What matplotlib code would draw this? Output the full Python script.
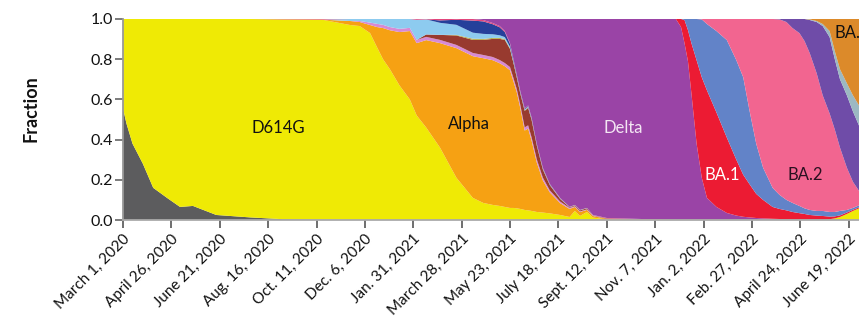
import numpy as np
import matplotlib
matplotlib.use("Agg")
import matplotlib.pyplot as plt

plt.rcParams['font.family'] = ['Lato', 'DejaVu Sans']

# Sampling dates (weekly-ish, denser where lineages turn over)
dates = [
    '2020-03-01', '2020-03-05', '2020-03-12', '2020-03-24', '2020-04-05', '2020-04-21',
    '2020-05-06', '2020-05-21', '2020-06-02', '2020-06-17', '2020-07-26', '2020-09-02',
    '2020-10-17',
    '2020-11-19', '2020-11-30', '2020-12-12', '2020-12-20', '2020-12-27', '2021-01-04',
    '2021-01-15', '2021-01-27', '2021-02-04', '2021-02-15', '2021-03-03', '2021-03-22',
    '2021-04-10', '2021-04-22', '2021-05-03', '2021-05-11', '2021-05-17', '2021-05-23',
    '2021-05-27', '2021-05-31', '2021-06-04', '2021-06-09', '2021-06-13', '2021-06-17',
    '2021-06-23', '2021-06-30', '2021-07-08', '2021-07-20', '2021-07-31', '2021-08-06',
    '2021-08-12', '2021-08-20', '2021-08-27', '2021-09-12', '2021-10-22',
    '2021-12-01', '2021-12-07', '2021-12-11', '2021-12-15', '2021-12-19', '2021-12-25',
    '2021-12-31', '2022-01-06', '2022-01-17', '2022-01-29', '2022-02-09', '2022-02-17',
    '2022-02-24', '2022-03-04', '2022-03-12', '2022-03-23', '2022-03-31', '2022-04-08',
    '2022-04-15', '2022-04-23', '2022-04-29', '2022-05-05', '2022-05-13', '2022-05-20',
    '2022-05-28', '2022-06-03', '2022-06-09', '2022-06-17', '2022-06-24', '2022-07-01',
]

# Lineage fractions, bottom of the stack first
ancestral = [
    0.555, 0.48, 0.38, 0.28, 0.16, 0.11, 0.065, 0.07, 0.05, 0.025, 0.013, 0.004, 0.002,
    0, 0, 0, 0, 0, 0, 0, 0, 0, 0, 0, 0, 0, 0, 0, 0, 0, 0, 0, 0, 0, 0, 0, 0, 0, 0, 0, 0,
    0, 0, 0, 0, 0, 0, 0,
    0, 0, 0, 0, 0, 0, 0, 0, 0, 0, 0, 0, 0, 0, 0, 0, 0, 0, 0, 0, 0, 0, 0, 0, 0, 0, 0, 0,
    0, 0,
]
d614g = [
    0.445, 0.52, 0.62, 0.72, 0.84, 0.89, 0.935, 0.93, 0.95, 0.975, 0.987, 0.994, 0.995,
    0.97, 0.965, 0.93, 0.86, 0.80, 0.75, 0.67, 0.60, 0.52, 0.46, 0.36, 0.21, 0.11, 0.085,
    0.075, 0.07, 0.065, 0.06, 0.06, 0.058, 0.055, 0.05, 0.048, 0.045, 0.04, 0.037, 0.033,
    0.025, 0.015, 0.045, 0.02, 0.04, 0.012, 0.003, 0.002,
    0.002, 0.002, 0.002, 0.002, 0.002, 0.002, 0.002, 0.002, 0.002, 0.002, 0.002, 0.002,
    0.002, 0.002, 0.002, 0.002, 0.002, 0.002, 0.002, 0.002, 0.002, 0.002, 0.002, 0.002,
    0.004, 0.008, 0.015, 0.03, 0.045, 0.058,
]
alpha = [
    0, 0, 0, 0, 0, 0, 0, 0, 0, 0, 0, 0, 0,
    0.02, 0.02, 0.04, 0.10, 0.155, 0.194, 0.265, 0.34, 0.36, 0.435, 0.52, 0.645, 0.705,
    0.72, 0.72, 0.71, 0.70, 0.685, 0.63, 0.575, 0.50, 0.395, 0.407, 0.35, 0.246, 0.16,
    0.105, 0.059, 0.04, 0.02, 0.02, 0.01, 0.008, 0.003, 0.001,
    0, 0, 0, 0, 0, 0, 0, 0, 0, 0, 0, 0, 0, 0, 0, 0, 0, 0, 0, 0, 0, 0, 0, 0, 0, 0, 0, 0,
    0, 0,
]
lilac = [
    0, 0, 0, 0, 0, 0, 0, 0, 0, 0, 0, 0, 0,
    0, 0.005, 0.012, 0.016, 0.016, 0.016, 0.016, 0.016, 0.016, 0.016, 0.016, 0.016, 0.016,
    0.016, 0.016, 0.016, 0.016, 0.016, 0.016, 0.016, 0.016, 0.016, 0.016, 0.016, 0.016,
    0.014, 0.01, 0.008, 0.005, 0.004, 0.003, 0.003, 0.002, 0, 0,
    0, 0, 0, 0, 0, 0, 0, 0, 0, 0, 0, 0, 0, 0, 0, 0, 0, 0, 0, 0, 0, 0, 0, 0, 0, 0, 0, 0,
    0, 0,
]
gamma = [
    0, 0, 0, 0, 0, 0, 0, 0, 0, 0, 0, 0, 0,
    0, 0, 0, 0, 0, 0, 0, 0, 0, 0.012, 0.025, 0.047, 0.065, 0.075, 0.09, 0.105, 0.115,
    0.09, 0.075, 0.057, 0.057, 0.082, 0.087, 0.087, 0.069, 0.041, 0.026, 0.013, 0.003,
    0.004, 0.005, 0.005, 0.002, 0.002, 0,
    0, 0, 0, 0, 0, 0, 0, 0, 0, 0, 0, 0, 0, 0, 0, 0, 0, 0, 0, 0, 0, 0, 0, 0, 0, 0, 0, 0,
    0, 0,
]
olive = [
    0, 0, 0, 0, 0, 0, 0, 0, 0, 0, 0, 0, 0,
    0, 0, 0, 0, 0, 0, 0, 0, 0, 0, 0, 0.003, 0.006, 0.005, 0.005, 0.005, 0.004, 0.003,
    0.003, 0.002, 0.002, 0.002, 0.002, 0.002, 0.002, 0.002, 0.001, 0.001, 0.001, 0.001,
    0.001, 0.001, 0, 0, 0,
    0, 0, 0, 0, 0, 0, 0, 0, 0, 0, 0, 0, 0, 0, 0, 0, 0, 0, 0, 0, 0, 0, 0, 0, 0, 0, 0, 0,
    0, 0,
]
light_blue = [
    0, 0, 0, 0, 0, 0, 0, 0, 0, 0, 0, 0, 0,
    0.01, 0.01, 0.018, 0.024, 0.029, 0.04, 0.049, 0.044, 0.1, 0.075, 0.06, 0.05, 0.03,
    0.025, 0.018, 0.013, 0.01, 0.008, 0.006, 0.005, 0.004, 0.004, 0.004, 0.004, 0.003,
    0.003, 0.002, 0.002, 0.001, 0.001, 0.001, 0.001, 0.001, 0, 0,
    0, 0, 0, 0, 0, 0, 0, 0, 0, 0, 0, 0, 0, 0, 0, 0, 0, 0, 0, 0, 0, 0, 0, 0, 0, 0, 0, 0,
    0, 0,
]
dark_blue = [
    0, 0, 0, 0, 0, 0, 0, 0, 0, 0, 0, 0, 0,
    0, 0, 0, 0, 0, 0, 0, 0, 0, 0, 0.012, 0.025, 0.06, 0.062, 0.05, 0.04, 0.025, 0.014,
    0.008, 0.005, 0.004, 0.004, 0.004, 0.004, 0.003, 0.002, 0.002, 0.001, 0, 0, 0, 0, 0,
    0, 0,
    0, 0, 0, 0, 0, 0, 0, 0, 0, 0, 0, 0, 0, 0, 0, 0, 0, 0, 0, 0, 0, 0, 0, 0, 0, 0, 0, 0,
    0, 0,
]
other = [
    0, 0, 0, 0, 0, 0, 0, 0, 0, 0, 0, 0.002, 0.003,
    0, 0, 0, 0, 0, 0, 0, 0, 0.004, 0.002, 0.007, 0.004, 0.008, 0.007, 0.006, 0.006, 0.005,
    0.004, 0.002, 0.002, 0.002, 0.002, 0.002, 0.002, 0.001, 0.001, 0.001, 0.001, 0, 0, 0,
    0, 0, 0.002, 0.002,
    0, 0, 0, 0, 0, 0, 0, 0, 0, 0, 0, 0, 0, 0, 0, 0, 0, 0, 0, 0, 0, 0, 0, 0, 0, 0, 0, 0,
    0, 0,
]
delta = [
    0, 0, 0, 0, 0, 0, 0, 0, 0, 0, 0, 0, 0,
    0, 0, 0, 0, 0, 0, 0, 0, 0, 0, 0, 0, 0, 0.005, 0.02, 0.035, 0.06, 0.12, 0.20, 0.28,
    0.36, 0.445, 0.43, 0.49, 0.62, 0.74, 0.82, 0.89, 0.935, 0.925, 0.95, 0.94, 0.975,
    0.99, 0.995,
    0.998, 0.958, 0.878, 0.788, 0.628, 0.378, 0.208, 0.108, 0.063, 0.033, 0.02, 0.014,
    0.011, 0.008, 0.006, 0.004, 0.003, 0.002, 0.001, 0.001, 0.001, 0.001, 0.001, 0,
    0, 0, 0, 0, 0, 0,
]
ba1 = [
    0, 0, 0, 0, 0, 0, 0, 0, 0, 0, 0, 0, 0,
    0, 0, 0, 0, 0, 0, 0, 0, 0, 0, 0, 0, 0, 0, 0, 0, 0, 0, 0, 0, 0, 0, 0, 0, 0, 0, 0, 0,
    0, 0, 0, 0, 0, 0, 0,
    0, 0.04, 0.115, 0.155, 0.25, 0.415, 0.50, 0.535, 0.47, 0.375, 0.278, 0.209, 0.167,
    0.12, 0.092, 0.059, 0.05, 0.044, 0.037, 0.031, 0.027, 0.022, 0.019, 0.018, 0.013,
    0.01, 0.008, 0.007, 0.006, 0.005,
]
ba1_1 = [
    0, 0, 0, 0, 0, 0, 0, 0, 0, 0, 0, 0, 0,
    0, 0, 0, 0, 0, 0, 0, 0, 0, 0, 0, 0, 0, 0, 0, 0, 0, 0, 0, 0, 0, 0, 0, 0, 0, 0, 0, 0,
    0, 0, 0, 0, 0, 0, 0,
    0, 0, 0.005, 0.055, 0.12, 0.205, 0.288, 0.33, 0.405, 0.485, 0.495, 0.485, 0.37, 0.25,
    0.16, 0.095, 0.07, 0.052, 0.045, 0.036, 0.028, 0.025, 0.023, 0.025, 0.023, 0.022,
    0.022, 0.013, 0.009, 0.01,
]
ba2 = [
    0, 0, 0, 0, 0, 0, 0, 0, 0, 0, 0, 0, 0,
    0, 0, 0, 0, 0, 0, 0, 0, 0, 0, 0, 0, 0, 0, 0, 0, 0, 0, 0, 0, 0, 0, 0, 0, 0, 0, 0, 0,
    0, 0, 0, 0, 0, 0, 0,
    0, 0, 0, 0, 0, 0, 0.002, 0.025, 0.06, 0.105, 0.205, 0.29, 0.45, 0.62, 0.74, 0.84,
    0.873, 0.885, 0.87, 0.86, 0.832, 0.78, 0.685, 0.575, 0.49, 0.41, 0.315, 0.21, 0.13,
    0.072,
]
ba2_12_1 = [
    0, 0, 0, 0, 0, 0, 0, 0, 0, 0, 0, 0, 0,
    0, 0, 0, 0, 0, 0, 0, 0, 0, 0, 0, 0, 0, 0, 0, 0, 0, 0, 0, 0, 0, 0, 0, 0, 0, 0, 0, 0,
    0, 0, 0, 0, 0, 0, 0,
    0, 0, 0, 0, 0, 0, 0, 0, 0, 0, 0, 0, 0, 0, 0, 0, 0.002, 0.015, 0.045, 0.07, 0.11,
    0.165, 0.255, 0.345, 0.38, 0.35, 0.34, 0.36, 0.35, 0.325,
]
ba4 = [
    0, 0, 0, 0, 0, 0, 0, 0, 0, 0, 0, 0, 0,
    0, 0, 0, 0, 0, 0, 0, 0, 0, 0, 0, 0, 0, 0, 0, 0, 0, 0, 0, 0, 0, 0, 0, 0, 0, 0, 0, 0,
    0, 0, 0, 0, 0, 0, 0,
    0, 0, 0, 0, 0, 0, 0, 0, 0, 0, 0, 0, 0, 0, 0, 0, 0, 0, 0, 0, 0, 0.003, 0.005, 0.01,
    0.03, 0.04, 0.05, 0.06, 0.08, 0.10,
]
ba5 = [
    0, 0, 0, 0, 0, 0, 0, 0, 0, 0, 0, 0, 0,
    0, 0, 0, 0, 0, 0, 0, 0, 0, 0, 0, 0, 0, 0, 0, 0, 0, 0, 0, 0, 0, 0, 0, 0, 0, 0, 0, 0,
    0, 0, 0, 0, 0, 0, 0,
    0, 0, 0, 0, 0, 0, 0, 0, 0, 0, 0, 0, 0, 0, 0, 0, 0, 0, 0, 0, 0, 0.002, 0.01, 0.025,
    0.06, 0.16, 0.25, 0.32, 0.38, 0.43,
]

layers = [ancestral, d614g, alpha, lilac, gamma, olive, light_blue, dark_blue, other,
          delta, ba1, ba1_1, ba2, ba2_12_1, ba4, ba5]
colors = ['#5c5c5e', '#efea05', '#f6a113', '#d78ad4', '#983a2f', '#b7ae4b', '#8dcbef',
          '#25409a', '#e2467c', '#9a44a6', '#ec1b33', '#6283c8', '#f26590', '#6f4ca8',
          '#9cb8c2', '#dc8a2a']

tick_dates = ['2020-03-01', '2020-04-26', '2020-06-21', '2020-08-16', '2020-10-11',
              '2020-12-06', '2021-01-31', '2021-03-28', '2021-05-23', '2021-07-18',
              '2021-09-12', '2021-11-07', '2022-01-02', '2022-02-27', '2022-04-24',
              '2022-06-19']
tick_labels = ['March 1, 2020', 'April 26, 2020', 'June 21, 2020', 'Aug. 16, 2020',
               'Oct. 11, 2020', 'Dec. 6, 2020', 'Jan. 31, 2021', 'March 28, 2021',
               'May 23, 2021', 'July 18, 2021', 'Sept. 12, 2021', 'Nov. 7, 2021',
               'Jan. 2, 2022', 'Feb. 27, 2022', 'April 24, 2022', 'June 19, 2022']

for s in layers:
    assert len(s) == len(dates)

x = np.array(dates, dtype='datetime64[D]')

fig = plt.figure(figsize=(8.59, 3.21), dpi=100)
ax = fig.add_axes([123 / 859, 1 - 220 / 321, (859 - 123) / 859, (220 - 19) / 321])

ax.stackplot(x, *layers, colors=colors, linewidth=0, antialiased=True)

ax.set_xlim(np.datetime64('2020-03-01'), np.datetime64('2022-07-01'))
ax.set_ylim(0, 1)

ax.set_xticks(np.array(tick_dates, dtype='datetime64[D]'))
ax.set_xticklabels(tick_labels, rotation=45, ha='right', rotation_mode='anchor',
                   fontsize=11, color='#111111')
ax.set_yticks([0, 0.2, 0.4, 0.6, 0.8, 1.0])
ax.set_yticklabels(['0.0', '0.2', '0.4', '0.6', '0.8', '1.0'], fontsize=11.5,
                   color='#111111')
ax.tick_params(axis='x', length=5.5, width=1.2, color='#555555', pad=3)
ax.tick_params(axis='y', length=5.5, width=1.2, color='#666666', pad=2)

for side in ['top', 'right']:
    ax.spines[side].set_visible(False)
ax.spines['left'].set_color('#999999')
ax.spines['bottom'].set_color('#aaaaaa')
ax.spines['left'].set_linewidth(1.3)
ax.spines['bottom'].set_linewidth(1.3)

fig.text(31 / 859, 1 - 108.5 / 321, 'Fraction', rotation=90, ha='center', va='center',
         fontsize=13, fontweight='bold', color='#111111')

label_kw = dict(fontsize=12, ha='center', va='center')
ax.text(np.datetime64('2020-08-28'), 0.459, 'D614G', color='#111111', **label_kw)
ax.text(np.datetime64('2021-04-05'), 0.476, 'Alpha', color='#111111', **label_kw)
ax.text(np.datetime64('2021-10-01'), 0.457, 'Delta', color='#f3e6f3', **label_kw)
ax.text(np.datetime64('2022-01-24'), 0.225, 'BA.1', color='#ffffff', **label_kw)
ax.text(np.datetime64('2022-04-30'), 0.225, 'BA.2', color='#2a1020', **label_kw)
# The last lineage label runs past the right edge of the figure
ax.text(np.datetime64('2022-06-03'), 0.93, 'BA.5', color='#111111', fontsize=12,
        ha='left', va='center', clip_on=False)

fig.savefig('out.png', dpi=100)
